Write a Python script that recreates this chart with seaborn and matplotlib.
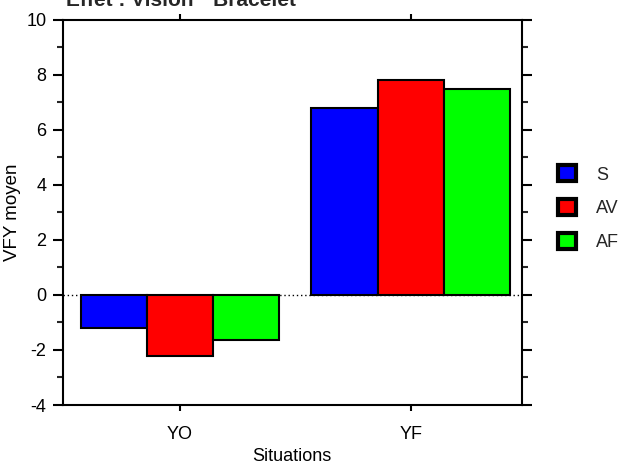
import pandas as pd
import numpy as np
import seaborn as sns
import matplotlib.pyplot as plt
from matplotlib.ticker import MultipleLocator

# data
situations = ['YO', 'YF']
bracelets = ['S', 'AV', 'AF']
vfy_S = [-1.2, 6.8]
vfy_AV = [-2.22, 7.82]
vfy_AF = [-1.64, 7.49]
colors = ['#0000ff', '#ff0000', '#00ff00']

df = pd.DataFrame({
    'Situations': situations * 3,
    'Bracelet': [b for b in bracelets for _ in situations],
    'VFY moyen': vfy_S + vfy_AV + vfy_AF,
})

sns.set_theme(style='white')
plt.rcParams['font.family'] = ['Liberation Sans', 'DejaVu Sans']
plt.rcParams['axes.unicode_minus'] = False

fig = plt.figure(figsize=(6.25, 4.66), dpi=100)
ax = fig.add_axes([0.1008, 0.1309, 0.7336, 0.8262])

sns.barplot(data=df, x='Situations', y='VFY moyen', hue='Bracelet',
            palette=colors, width=0.86, edgecolor='black', linewidth=1.5,
            saturation=1, errorbar=None, ax=ax)

# dotted zero line
ax.axhline(0, color='black', linestyle=(0, (1, 2)), linewidth=1, zorder=0)
ax.set_ylim(-4, 10)
ax.set_xlim(-0.506, 1.48)
ax.yaxis.set_major_locator(MultipleLocator(2))
ax.yaxis.set_minor_locator(MultipleLocator(1))

for s in ax.spines.values():
    s.set_visible(True)
    s.set_color('black')
    s.set_linewidth(1.5)

ax.tick_params(axis='y', which='major', direction='out', length=7, width=1.5,
               labelsize=13, colors='black', left=True, right=True, pad=5)
ax.tick_params(axis='y', which='minor', direction='out', length=4, width=1.5,
               left=True, right=True)
ax.tick_params(axis='x', which='major', direction='out', length=4, width=1.5,
               labelsize=13, colors='black', top=True, bottom=True, pad=11)

ax.set_xlabel('Situations', fontsize=13, color='black', labelpad=4)
ax.set_ylabel('VFY moyen', fontsize=13.5, color='black', labelpad=4)

handles, labels = ax.get_legend_handles_labels()
for h in handles:
    h.set_linewidth(3)
ax.get_legend().remove()
fig.legend(handles, labels, loc='center left', bbox_to_anchor=(0.893, 0.5536),
           frameon=False, fontsize=13, handlelength=1.0, handleheight=1.0,
           handletextpad=1.1, labelspacing=0.85, borderpad=0, borderaxespad=0)

fig.text(0.105, 1.0, 'Effet : Vision * Bracelet', fontsize=15, fontweight='bold',
         ha='left', va='center')

fig.savefig('out.png', dpi=100)
